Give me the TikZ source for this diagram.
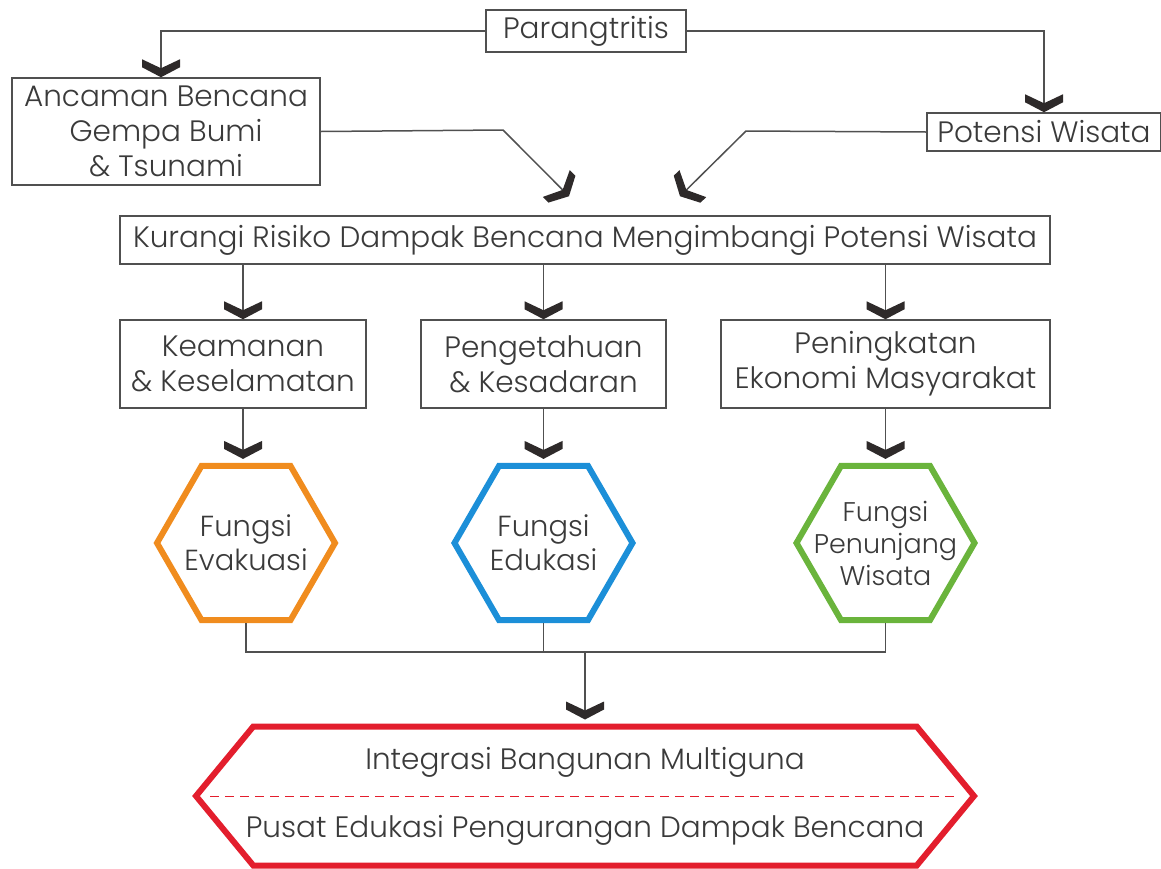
\documentclass[tikz,border=0pt]{standalone}
\usepackage{fontspec}
\setmainfont{Poppins}[UprightFont=* Light]
\usetikzlibrary{positioning, calc}
\usetikzlibrary{shapes.geometric, shapes.symbols}
\usetikzlibrary{arrows.meta}

\definecolor{txtgray}{HTML}{3A3A3A}
\definecolor{linegray}{HTML}{505050}
\definecolor{chevdark}{HTML}{2E2A2A}
\definecolor{evaorange}{HTML}{F08C1E}
\definecolor{edublue}{HTML}{1C8FD8}
\definecolor{wisgreen}{HTML}{6AB43C}
\definecolor{hubred}{HTML}{E31E2D}

% chevron arrow tip
\pgfdeclarearrow{
  name = Chevron,
  setup code = {
    \pgfarrowssettipend{0pt}
    \pgfarrowssetlineend{-8pt}
    \pgfarrowssetvisualbackend{-18pt}
    \pgfarrowssetbackend{-18pt}
    \pgfarrowshullpoint{0pt}{0pt}
    \pgfarrowshullpoint{-18pt}{19pt}
    \pgfarrowshullpoint{-18pt}{-19pt}
  },
  drawing code = {
    \pgfpathmoveto{\pgfqpoint{0pt}{0pt}}
    \pgfpathlineto{\pgfqpoint{-10pt}{19pt}}
    \pgfpathlineto{\pgfqpoint{-18pt}{19pt}}
    \pgfpathlineto{\pgfqpoint{-9pt}{0pt}}
    \pgfpathlineto{\pgfqpoint{-18pt}{-19pt}}
    \pgfpathlineto{\pgfqpoint{-10pt}{-19pt}}
    \pgfpathclose
    \pgfusepathqfill
  }
}

\tikzset{
  txt/.style={text=txtgray, align=center, font=\fontsize{29.5}{35}\selectfont, inner sep=0pt},
  box/.style={txt, draw=linegray, line width=1.5pt},
  flow/.style={draw=linegray, line width=1.5pt, -{Chevron[color=chevdark]}},
  hexa/.style={regular polygon, regular polygon sides=6, minimum size=178pt, line width=6pt, inner sep=0pt},
}

\begin{document}
\begin{tikzpicture}[x=1pt, y=-1pt]
  \useasboundingbox (0,0) rectangle (1161,868);

  % Top level
  \node (par) [box, minimum width=200pt, minimum height=42pt] at (586,31) {Parangtritis};
  \node (anc) [box, minimum width=308pt, minimum height=107pt] at (166,131.5) {Ancaman Bencana\\Gempa Bumi\\\& Tsunami};
  \node (pot) [box, minimum width=234pt, minimum height=38pt] at (1044,132) {Potensi Wisata};

  % Main goal
  \node (kur) [box, minimum width=930pt, minimum height=48pt] at (585,240) {Kurangi Risiko Dampak Bencana Mengimbangi Potensi Wisata};

  % Three aspects
  \node (kea) [box, minimum width=246pt, minimum height=88pt] at (243,364) {Keamanan\\\& Keselamatan};
  \node (pen) [box, minimum width=245pt, minimum height=88pt] at (543.5,364) {Pengetahuan\\\& Kesadaran};
  \node (eko) [box, minimum width=329pt, minimum height=88pt] at (885.5,364) {Peningkatan\\Ekonomi Masyarakat};

  % Functions
  \node (hEva) [hexa, draw=evaorange] at (246,543) {};
  \node (hEdu) [hexa, draw=edublue] at (543.5,543) {};
  \node (hWis) [hexa, draw=wisgreen] at (885.5,543) {};
  \node (tEva) [txt, font=\fontsize{29}{34}\selectfont] at (hEva) {Fungsi\\Evakuasi};
  \node (tEdu) [txt, font=\fontsize{29}{34}\selectfont] at (hEdu) {Fungsi\\Edukasi};
  \node (tWis) [txt, font=\fontsize{27}{32}\selectfont] at (hWis) {Fungsi\\Penunjang\\Wisata};

  % Multi-purpose building
  \node (hub) [signal, signal to=west and east, signal pointer angle=101, draw=hubred, line width=6pt, minimum width=778pt, minimum height=139pt, inner sep=0pt] at (585,796) {};
  \node (intg) [txt] at ([yshift=34pt]hub.center) {Integrasi Bangunan Multiguna};
  \node (pusat) [txt] at ([yshift=-34pt]hub.center) {Pusat Edukasi Pengurangan Dampak Bencana};
  \draw[hubred, line width=1pt, dash pattern=on 9pt off 6pt] ([xshift=18pt]hub.west) -- ([xshift=-18pt]hub.east);

  % Arrows from Parangtritis
  \draw[flow] (par.west) -| ([xshift=-5pt]anc.north);
  \draw[flow] (par.east) -| (pot.north);

  % Arrows into the main goal
  \coordinate (kurL) at ([xshift=-16pt, yshift=19pt]kur.north);
  \coordinate (kurR) at ([xshift=95pt, yshift=19pt]kur.north);
  \draw[flow] (anc.east) -- (503,130) -- (kurL);
  \draw[flow] (pot.west) -- (746,131) -- (kurR);

  % Arrows from the main goal to the aspects
  \draw[flow] (kur.south -| kea.north) -- (kea.north);
  \draw[flow] (kur.south -| pen.north) -- (pen.north);
  \draw[flow] (kur.south -| eko.north) -- (eko.north);

  % Arrows from the aspects to the functions
  \draw[flow] (kea.south) -- ([yshift=4pt]kea.south |- hEva.north);
  \draw[flow] (pen.south) -- ([yshift=4pt]hEdu.north);
  \draw[flow] (eko.south) -- ([yshift=4pt]hWis.north);

  % Functions joined into the building
  \coordinate (bus) at (585,652);
  \draw[linegray, line width=1.5pt] (hEva.south) |- (hWis.south |- bus) -- (hWis.south);
  \draw[linegray, line width=1.5pt] (hEdu.south) -- (hEdu.south |- bus);
  \draw[flow] (bus) -- ([yshift=4pt]hub.north);
\end{tikzpicture}
\end{document}
